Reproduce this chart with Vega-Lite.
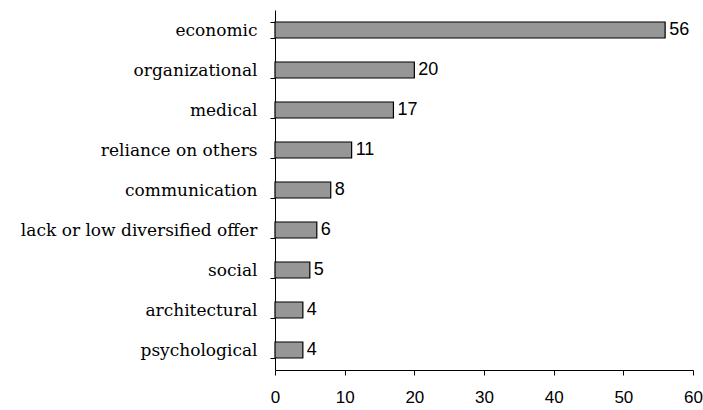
{
  "$schema": "https://vega.github.io/schema/vega-lite/v6.json",
  "width": 418,
  "height": 360,
  "autosize": {"type": "none"},
  "padding": {"left": 275, "top": 10, "right": 10, "bottom": 40},
  "background": "white",
  "data": {"values": [
    {"category": "economic", "value": 56},
    {"category": "organizational", "value": 20},
    {"category": "medical", "value": 17},
    {"category": "reliance on others", "value": 11},
    {"category": "communication", "value": 8},
    {"category": "lack or low diversified offer", "value": 6},
    {"category": "social", "value": 5},
    {"category": "architectural", "value": 4},
    {"category": "psychological", "value": 4}
  ]},
  "config": {"view": {"stroke": null}},
  "encoding": {
    "y": {"field": "category", "type": "nominal", "sort": null,
      "scale": {"paddingInner": 0.6, "paddingOuter": 0.3},
      "axis": {"title": null, "tickBand": "extent", "domainColor": "black", "tickColor": "black", "tickSize": 5,
        "labelFont": "DejaVu Serif", "labelFontSize": 17, "labelColor": "black", "labelPadding": 13, "labelLimit": 300}},
    "x": {"field": "value", "type": "quantitative",
      "scale": {"domain": [0, 60], "nice": false},
      "axis": {"title": null, "values": [0, 10, 20, 30, 40, 50, 60], "grid": false, "domainColor": "black", "tickColor": "black", "tickSize": 5,
        "labelFont": "Liberation Sans", "labelFontSize": 17, "labelColor": "black", "labelPadding": 14, "labelFlush": false}}
  },
  "layer": [
    {"mark": {"type": "bar", "fill": "#969696", "stroke": "black", "strokeWidth": 1.2}},
    {"mark": {"type": "text", "align": "left", "baseline": "middle", "dx": 4, "font": "Liberation Sans", "fontSize": 18, "color": "black"},
      "encoding": {"text": {"field": "value", "type": "quantitative"}}}
  ]
}
